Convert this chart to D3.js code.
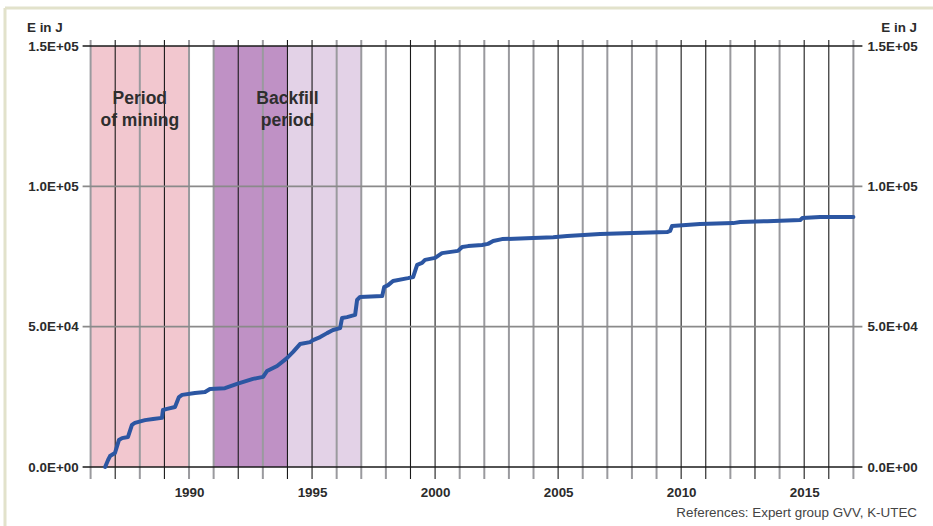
<!DOCTYPE html>
<html>
<head>
<meta charset="utf-8">
<script src="https://cdn.jsdelivr.net/npm/d3@7"></script>
<style>
  html, body { margin: 0; padding: 0; background: #fff; }
  svg { display: block; font-family: "Liberation Sans", Arial, sans-serif; }
</style>
</head>
<body>
<svg id="chart" width="933" height="526"></svg>
<script>
// Cumulative seismic energy release (J) over time
const years = [1986.59, 1986.71, 1986.79, 1986.99, 1987.15, 1987.28, 1987.52, 1987.68, 1987.80, 1988.21,
  1988.54, 1988.90, 1988.94, 1989.11, 1989.43, 1989.59, 1989.72, 1990.24, 1990.65, 1990.85,
  1991.46, 1991.95, 1992.60, 1993.01, 1993.17, 1993.58, 1993.98, 1994.23, 1994.51, 1994.92,
  1995.04, 1995.33, 1995.61, 1995.85, 1996.14, 1996.22, 1996.42, 1996.75, 1996.83, 1996.95,
  1997.85, 1997.93, 1998.09, 1998.29, 1998.90, 1999.11, 1999.27, 1999.47, 1999.59, 2000.00,
  2000.28, 2000.93, 2001.10, 2001.34, 2001.91, 2002.15, 2002.36, 2002.72, 2003.98, 2004.80,
  2005.37, 2006.71, 2008.05, 2009.43, 2009.55, 2009.63, 2010.77, 2012.11, 2012.40, 2013.50,
  2014.84, 2014.92, 2015.65, 2017.00];
const energy = [0, 2500, 3900, 5000, 9600, 10300, 10700, 15000, 15700, 16700,
  17100, 17500, 20300, 20700, 21400, 24900, 25700, 26400, 26700, 27800,
  28100, 29600, 31400, 32100, 34200, 36000, 38800, 41000, 43800, 44500,
  45200, 46300, 47700, 48800, 49500, 53100, 53400, 54200, 59500, 60600,
  60900, 64100, 64800, 66300, 67300, 67700, 72000, 72700, 73800, 74500,
  76200, 77000, 78400, 78700, 79100, 79500, 80500, 81200, 81600, 81900,
  82300, 83000, 83400, 83700, 84100, 85900, 86600, 86900, 87300, 87600,
  88000, 88700, 89100, 89100];

// Time periods shown as shaded bands: mining, main backfill, late backfill
const periodStart = [1986, 1991, 1994];
const periodEnd = [1990, 1994, 1997];

const yTicks = [0, 50000, 100000, 150000];
const xLabelYears = [1990, 1995, 2000, 2005, 2010, 2015];
const yearGrid = d3.range(1986, 2018);

const svg = d3.select("#chart");
const plotLeft = 90.6, plotRight = 853.4, plotTop = 46, plotBottom = 467;

const x = d3.scaleLinear().domain([1986, 2017]).range([plotLeft, plotRight]);
const y = d3.scaleLinear().domain([0, 150000]).range([plotBottom, plotTop]);

const bandColors = ["#f2c7cf", "#bf91c5", "#e3d2e7"];
const darkYears = new Set([1987, 1989, 1992, 1994, 1995, 1999, 2000, 2005, 2010, 2011, 2013, 2015, 2016]);

// Frame
svg.append("line").attr("x1", 5).attr("x2", 5).attr("y1", 8).attr("y2", 526)
  .attr("stroke", "#e2e2cb").attr("stroke-width", 3);
svg.append("line").attr("x1", 5).attr("x2", 933).attr("y1", 8).attr("y2", 8)
  .attr("stroke", "#e2e2cb").attr("stroke-width", 3);

// Shaded periods
svg.append("g").selectAll("rect").data(periodStart).join("rect")
  .attr("x", (d) => x(d))
  .attr("width", (d, i) => x(periodEnd[i]) - x(d))
  .attr("y", y(150000))
  .attr("height", y(0) - y(150000))
  .attr("fill", (d, i) => bandColors[i]);

// Vertical year grid (extends as ticks above and below)
svg.append("g").selectAll("line").data(yearGrid).join("line")
  .attr("x1", (d) => x(d)).attr("x2", (d) => x(d))
  .attr("y1", plotTop - 6).attr("y2", plotBottom + 12)
  .attr("stroke", (d) => darkYears.has(d) ? "#1a1a1a" : "#9a9a9e")
  .attr("stroke-width", (d) => darkYears.has(d) ? 1.1 : 2);

// Horizontal value grid
svg.append("g").selectAll("line").data(yTicks).join("line")
  .attr("x1", plotLeft - 8).attr("x2", plotRight + 9)
  .attr("y1", (d) => y(d)).attr("y2", (d) => y(d))
  .attr("stroke", (d) => (d === 0 || d === 150000) ? "#1a1a1a" : "#8a8a8a")
  .attr("stroke-width", (d) => (d === 0 || d === 150000) ? 1.3 : 1.6);

// Axis labels, left and right
const fmt = (v) => {
  const s = v.toExponential(1).toUpperCase();
  const [m, e] = s.split("E");
  const ev = parseInt(e, 10);
  return m + "E" + (ev < 0 ? "-" : "+") + String(Math.abs(ev)).padStart(2, "0");
};
const labelStyle = (sel) => sel.attr("font-size", 13.4).attr("font-weight", "bold").attr("fill", "#2b2b2b");

const yAxisL = d3.axisLeft(y).tickValues(yTicks).tickFormat(fmt).tickSize(0).tickPadding(0);
const gL = svg.append("g").attr("transform", `translate(${plotLeft - 12},0)`).call(yAxisL);
gL.select(".domain").remove();
gL.attr("font-family", null);
gL.selectAll("text").call(labelStyle);

const yAxisR = d3.axisRight(y).tickValues(yTicks).tickFormat(fmt).tickSize(0).tickPadding(0);
const gR = svg.append("g").attr("transform", `translate(${plotRight + 14},0)`).call(yAxisR);
gR.select(".domain").remove();
gR.attr("font-family", null);
gR.selectAll("text").call(labelStyle);

svg.append("text").attr("x", 27).attr("y", 32).text("E in J").call(labelStyle);
svg.append("text").attr("x", 917).attr("y", 32).attr("text-anchor", "end").text("E in J").call(labelStyle);

// Year labels
const xAxis = d3.axisBottom(x).tickValues(xLabelYears).tickFormat(d3.format("d")).tickSize(0).tickPadding(0);
const gX = svg.append("g").attr("transform", `translate(0,${plotBottom + 20})`).call(xAxis);
gX.select(".domain").remove();
gX.attr("font-family", null);
gX.selectAll("text").call(labelStyle).attr("dy", "0.71em");

// Period titles
const titleLines = [["Period", "of mining"], ["Backfill", "period"]];
const titleCenters = [(periodStart[0] + periodEnd[0]) / 2, (periodStart[1] + periodEnd[2]) / 2];
titleLines.forEach((lines, i) => {
  const t = svg.append("text").attr("text-anchor", "middle")
    .attr("font-size", 17.5).attr("font-weight", "bold").attr("fill", "#2e2e2e");
  lines.forEach((ln, j) => {
    t.append("tspan").attr("x", x(titleCenters[i])).attr("y", 104 + j * 22).text(ln);
  });
});

// Cumulative energy curve
const line = d3.line().x((d, i) => x(years[i])).y((d) => y(d)).curve(d3.curveLinear);
svg.append("path").datum(energy)
  .attr("d", line)
  .attr("fill", "none")
  .attr("stroke", "#2c56a2")
  .attr("stroke-width", 4)
  .attr("stroke-linejoin", "round")
  .attr("stroke-linecap", "round");

// Source note
svg.append("text").attr("x", 917).attr("y", 517).attr("text-anchor", "end")
  .attr("font-size", 13.4).attr("fill", "#444").text("References: Expert group GVV, K-UTEC");
</script>
</body>
</html>
